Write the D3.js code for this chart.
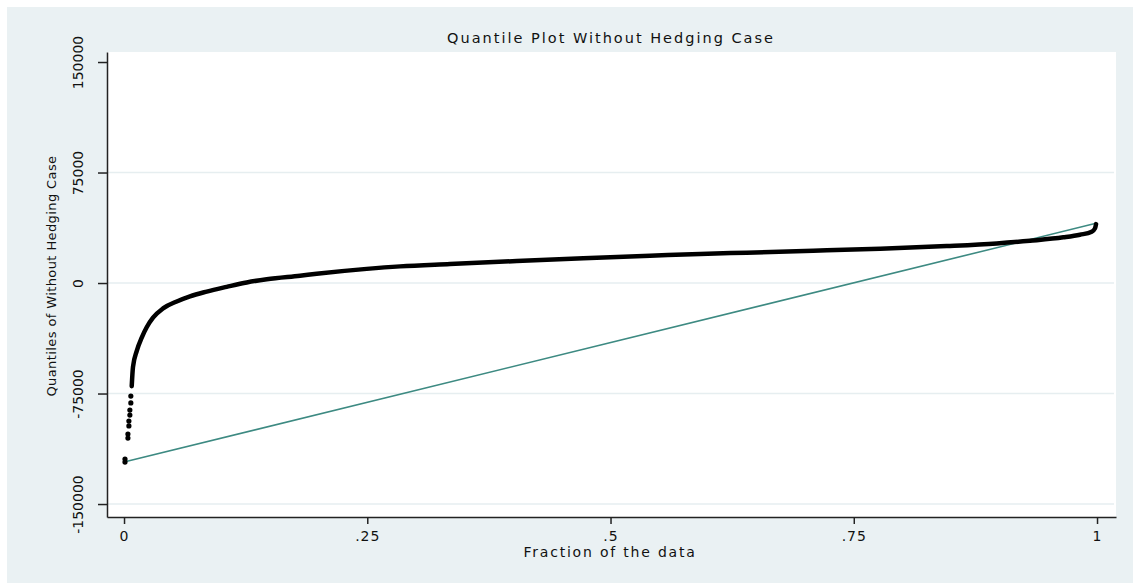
<!DOCTYPE html>
<html>
<head>
<meta charset="utf-8">
<script src="https://cdn.jsdelivr.net/npm/d3@7"></script>
<style>
  body { margin: 0; background: #fff; }
  text { font-family: "DejaVu Sans", sans-serif; fill: #111; }
</style>
</head>
<body>
<div id="chart"></div>
<script>
// sparse lowest quantiles (drawn as separate markers)
const tailFrac = [0.001, 0.001, 0.004, 0.004, 0.005, 0.005, 0.006, 0.006, 0.007, 0.007];
const tailVal = [-121500, -119500, -105200, -102500, -97000, -93700, -89600, -86200, -81400, -76700];

// dense part of the quantile curve
const curveFrac = [0.0079, 0.0092, 0.0131, 0.0182, 0.0233, 0.0298, 0.0401, 0.0542, 0.0678, 0.085,
    0.1055, 0.1261, 0.1467, 0.1809, 0.198, 0.2494, 0.2837, 0.335, 0.4036, 0.4721,
    0.5406, 0.592, 0.64, 0.7084, 0.777, 0.8455, 0.8969, 0.9311, 0.9654, 0.9825,
    0.9945, 0.9979, 0.999];
const curveVal = [-70000, -57000, -46000, -37000, -30000, -23500, -17200, -12500, -9000, -5800,
    -2600, 400, 2600, 5000, 6300, 9600, 11300, 12900, 14900, 16800,
    18500, 19700, 20600, 21900, 23300, 25100, 26900, 28700, 31000, 32800,
    34800, 37100, 40000];

// reference line (uniform quantiles between min and max)
const refFrac = [0, 1];
const refVal = [-121500, 40700];

const xTicks = [0, 0.25, 0.5, 0.75, 1];
const xTickLabels = ["0", ".25", ".5", ".75", "1"];
const yTicks = [-150000, -75000, 0, 75000, 150000];
const yTickLabels = ["-150000", "-75000", "0", "75000", "150000"];
const yGrid = [-150000, -75000, 0, 75000];

const width = 1133, height = 583;
const plot = { left: 107, right: 1116, top: 52, bottom: 517 };

const svg = d3.select("#chart")
    .append("svg")
    .attr("width", width)
    .attr("height", height);

// outer graph region
svg.append("rect")
    .attr("x", 7).attr("y", 7)
    .attr("width", width - 7).attr("height", height - 7)
    .attr("fill", "#eaf1f3");

// plot region
svg.append("rect")
    .attr("x", plot.left).attr("y", plot.top)
    .attr("width", plot.right - plot.left).attr("height", plot.bottom - plot.top)
    .attr("fill", "#fff");

const x = d3.scaleLinear().domain([-0.0175, 1.0195]).range([plot.left, plot.right]);
const y = d3.scaleLinear().domain([-158800, 156800]).range([plot.bottom, plot.top]);

// grid lines
svg.append("g")
    .selectAll("line")
    .data(yGrid)
    .enter()
    .append("line")
    .attr("x1", plot.left).attr("x2", plot.right - 2)
    .attr("y1", d => y(d)).attr("y2", d => y(d))
    .attr("stroke", "#e6eef0")
    .attr("stroke-width", 1.5);

// reference line
const refLine = d3.line().x(d => x(d[0])).y(d => y(d[1]));
svg.append("path")
    .datum(refFrac.map((f, i) => [f, refVal[i]]))
    .attr("d", refLine)
    .attr("fill", "none")
    .attr("stroke", "#3d8a82")
    .attr("stroke-width", 1.6);

// quantile curve
const curve = d3.line().x(d => x(d[0])).y(d => y(d[1])).curve(d3.curveMonotoneX);
svg.append("path")
    .datum(curveFrac.map((f, i) => [f, curveVal[i]]))
    .attr("d", curve)
    .attr("fill", "none")
    .attr("stroke", "#000")
    .attr("stroke-width", 4.5)
    .attr("stroke-linecap", "round");

svg.append("g")
    .selectAll("circle")
    .data(tailFrac.map((f, i) => [f, tailVal[i]]))
    .enter()
    .append("circle")
    .attr("cx", d => x(d[0]))
    .attr("cy", d => y(d[1]))
    .attr("r", 2.6)
    .attr("fill", "#000");

// axes
const yAxis = svg.append("g")
    .attr("transform", `translate(${plot.left},0)`)
    .call(d3.axisLeft(y)
        .tickValues(yTicks)
        .tickSize(9)
        .tickSizeOuter(0)
        .tickFormat((d, i) => yTickLabels[i]));
yAxis.select(".domain").attr("stroke", "#222").attr("stroke-width", 1.5);
yAxis.selectAll(".tick line").attr("stroke", "#222").attr("stroke-width", 1.5);
yAxis.selectAll(".tick text")
    .attr("x", 0).attr("y", 0).attr("dy", "0.35em")
    .attr("transform", "translate(-29,0) rotate(-90)")
    .attr("text-anchor", "middle")
    .style("font-size", "14px")
    .style("font-family", "DejaVu Sans, sans-serif")
    .style("fill", "#111");

const xAxis = svg.append("g")
    .attr("transform", `translate(0,${plot.bottom})`)
    .call(d3.axisBottom(x)
        .tickValues(xTicks)
        .tickSize(7)
        .tickSizeOuter(0)
        .tickFormat((d, i) => xTickLabels[i]));
xAxis.select(".domain").attr("stroke", "#222").attr("stroke-width", 1.5);
xAxis.selectAll(".tick text")
    .attr("y", 14);
xAxis.selectAll(".tick line").attr("stroke", "#222").attr("stroke-width", 1.5);
xAxis.selectAll(".tick text")
    .style("font-size", "14px")
    .style("font-family", "DejaVu Sans, sans-serif")
    .style("letter-spacing", "1px")
    .style("fill", "#111");

// titles
svg.append("text")
    .attr("x", 611)
    .attr("y", 43)
    .attr("text-anchor", "middle")
    .style("font-size", "14.5px")
    .style("letter-spacing", "2px")
    .text("Quantile Plot Without Hedging Case");

svg.append("text")
    .attr("x", 610)
    .attr("y", 557)
    .attr("text-anchor", "middle")
    .style("font-size", "14px")
    .style("letter-spacing", "1.8px")
    .text("Fraction of the data");

svg.append("text")
    .attr("transform", "translate(56,276) rotate(-90)")
    .attr("text-anchor", "middle")
    .style("font-size", "13px")
    .style("letter-spacing", "0.4px")
    .text("Quantiles of Without Hedging Case");
</script>
</body>
</html>
